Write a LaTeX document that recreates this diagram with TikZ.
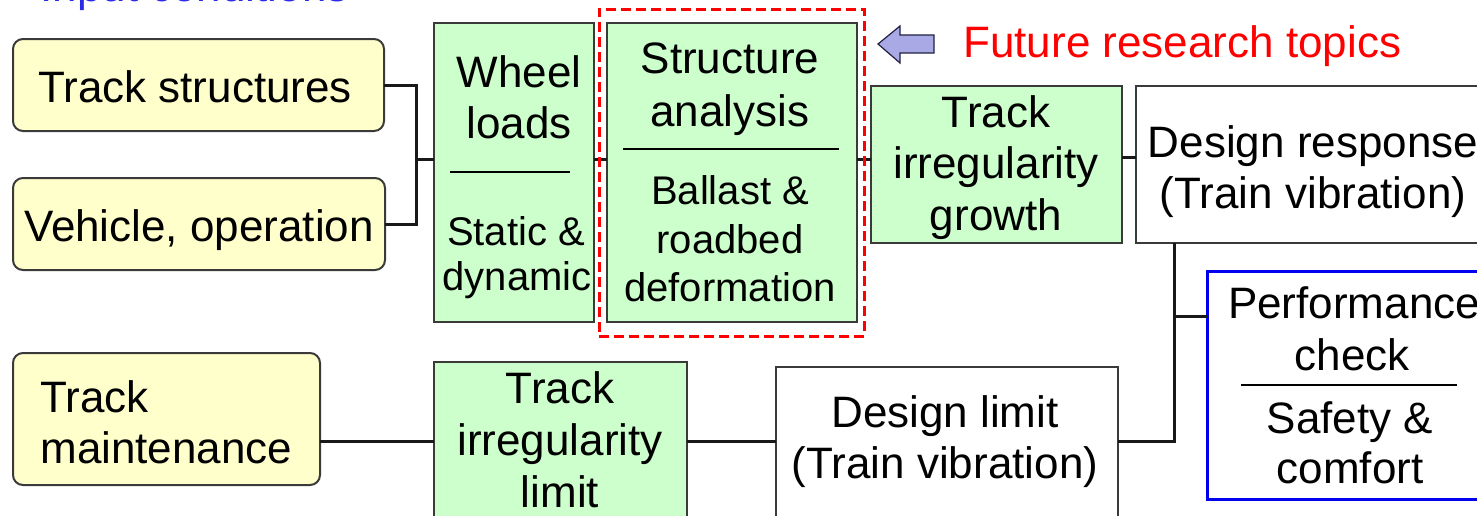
\documentclass[tikz,border=0pt]{standalone}
\usepackage{fontspec}
\setmainfont{Liberation Sans}
\definecolor{ybg}{HTML}{FFFFCC}
\definecolor{gbg}{HTML}{CCFFCC}
\definecolor{edgec}{HTML}{3A3A3A}
\definecolor{arrfill}{HTML}{A9A9E6}
\definecolor{arredge}{HTML}{202040}
\definecolor{inblue}{HTML}{2A2AE8}
\definecolor{pcblue}{HTML}{0000EE}
\begin{document}
\begin{tikzpicture}[x=0.5pt,y=-0.5pt,
  box/.style={draw=edgec,line width=1pt,inner sep=0,outer sep=0},
  ybox/.style={box,fill=ybg,rounded corners=5pt},
  gbox/.style={box,fill=gbg},
  wbox/.style={box,fill=white},
  conn/.style={line width=1.5pt,draw=black!90},
  divline/.style={line width=0.75pt,draw=black},
  big/.style={font=\fontsize{22pt}{26pt}\selectfont,inner sep=0,anchor=base},
  small/.style={font=\fontsize{20pt}{24pt}\selectfont,inner sep=0,anchor=base},
  bigl/.style={big,anchor=base west},
]
\clip (0,0) rectangle (1477,515);
\useasboundingbox (0,0) rectangle (1477,515);

% boxes
\node[ybox,minimum width=185.5pt,minimum height=46pt] (ts) at (198.5,85) {};
\node[ybox,minimum width=186pt,minimum height=46pt] (vo) at (199,224) {};
\node[gbox,minimum width=80pt,minimum height=149.5pt] (wl) at (514,172.5) {};
\node[gbox,minimum width=125pt,minimum height=149.5pt] (sa) at (732,172.5) {};
\node[gbox,minimum width=125.5pt,minimum height=78.5pt] (tg) at (996.5,164.5) {};
\node[wbox,minimum width=177pt,minimum height=78.5pt] (dr) at (1313,164.5) {};
\node[wbox,draw=pcblue,line width=1.5pt,minimum width=143pt,minimum height=114pt] (pc) at (1350,385) {};
\node[ybox,minimum width=153.5pt,minimum height=66pt] (tm) at (166.5,419) {};
\node[gbox,minimum width=126.5pt,minimum height=104pt] (tl) at (560.5,466) {};
\node[wbox,minimum width=171pt,minimum height=96.5pt] (dl) at (947,463.5) {};

% connectors
\coordinate (j1) at (416,159);
\coordinate (j2) at (1122,157);
\coordinate (j3) at (1174,316);
\coordinate (j4) at (1174,441);
\draw[conn] (ts.east) -| (j1) |- (vo.east);
\draw[conn] (j1) -- (j1 -| wl.west);
\draw[conn] (wl.east |- j1) -- (sa.west |- j1);
\draw[conn] (sa.east |- j1) -- (tg.west |- j1);
\draw[conn] (tg.east |- j2) -- (dr.west |- j2);
\draw[conn] (dr.south -| j3) -- (j4) -- (j4 -| dl.east);
\draw[conn] (j3) -- (j3 -| pc.west);
\draw[conn] (tm.east |- j4) -- (tl.west |- j4);
\draw[conn] (tl.east |- j4) -- (dl.west |- j4);

% future research frame
\node[draw=red,dash pattern=on 5pt off 2.5pt,line width=1.5pt,inner sep=0,
      minimum width=132.5pt,minimum height=163.5pt] (fr) at (731.5,172.5) {};

% arrow
\draw[fill=arrfill,draw=arredge,line width=0.6pt,line join=miter]
  (878,44) -- (900,26) -- (900,35) -- (934,35) -- (934,53) -- (900,53) -- (900,63) -- cycle;

% texts
\node[bigl,text=inblue] (tin) at (40,1) {Input conditions};
\node[bigl,text=red] (tfr) at (963,57) {Future research topics};

\node[big] (t1) at (195,102) {Track structures};
\node[big] (t2) at (199,241) {Vehicle, operation};

\node[big] (t3a) at (519,87) {Wheel};
\node[big] (t3b) at (519,138) {loads};
\draw[divline] (450,172) -- (570,172);
\node[small] (t3c) at (516,245) {Static \&};
\node[small] (t3d) at (517,290) {dynamic};

\node[big] (t4a) at (730,73) {Structure};
\node[big] (t4b) at (730,126) {analysis};
\draw[divline] (623,149) -- (839,149);
\node[small] (t4c) at (730,204) {Ballast \&};
\node[small] (t4d) at (730,253) {roadbed};
\node[small] (t4e) at (730,301) {deformation};

\node[big] (t5a) at (996,127) {Track};
\node[big] (t5b) at (996,178) {irregularity};
\node[big] (t5c) at (996,230) {growth};

\node[big] (t6a) at (1313,157) {Design response};
\node[big] (t6b) at (1313,208) {(Train vibration)};

\node[big] (t7a) at (1354,318) {Performance};
\node[big] (t7b) at (1352,370) {check};
\draw[divline] (1241,385) -- (1457,385);
\node[big] (t7c) at (1350,433) {Safety \&};
\node[big] (t7d) at (1350,483) {comfort};

\node[bigl] (t8a) at (40,412) {Track};
\node[bigl] (t8b) at (40,463) {maintenance};

\node[big] (t9a) at (560,403) {Track};
\node[big] (t9b) at (560,455) {irregularity};
\node[big] (t9c) at (560,507) {limit};

\node[big] (t10a) at (945,427) {Design limit};
\node[big] (t10b) at (945,478) {(Train vibration)};
\end{tikzpicture}
\end{document}
